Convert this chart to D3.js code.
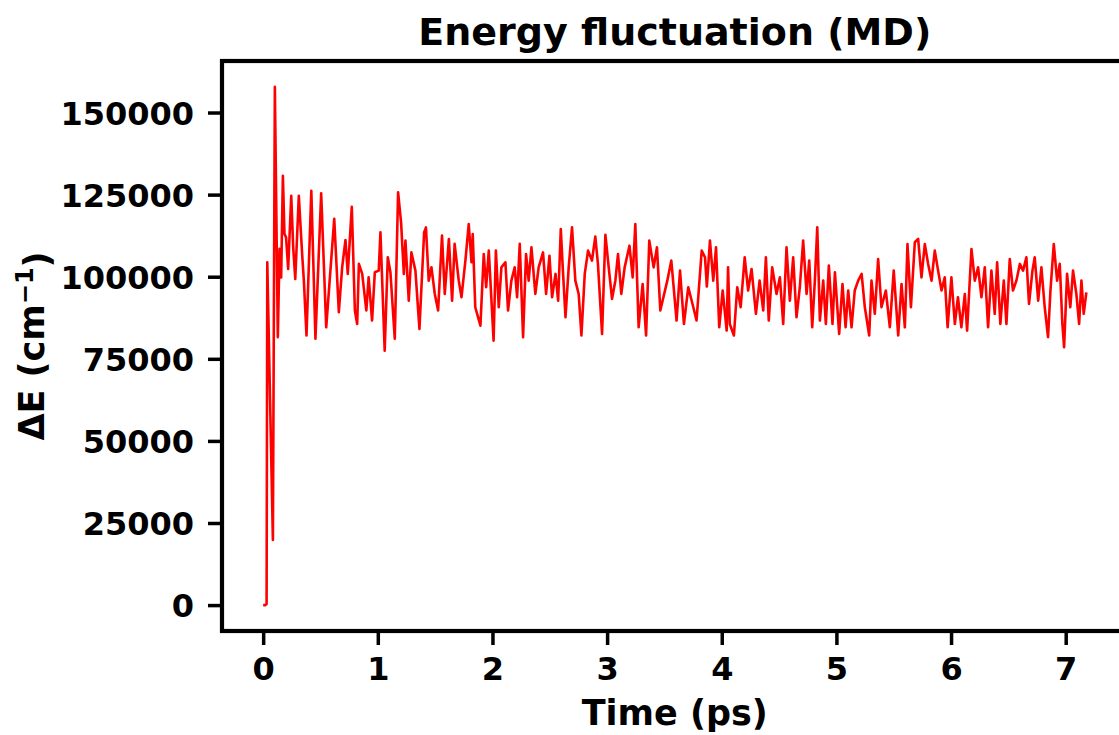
<!DOCTYPE html>
<html>
<head>
<meta charset="utf-8">
<script src="https://cdn.jsdelivr.net/npm/d3@7"></script>
<style>
  html, body { margin: 0; padding: 0; background: #fff; overflow: hidden; }
  svg { display: block; font-family: "DejaVu Sans", sans-serif; font-weight: bold; }
</style>
</head>
<body>
<svg id="chart" width="1119" height="735"></svg>
<script>
// ---- data ----
const timePs = [
  0.000, 0.010, 0.020, 0.030, 0.036, 0.085, 0.102, 0.128, 0.143, 0.157,
  0.172, 0.186, 0.200, 0.218, 0.245, 0.262, 0.280, 0.311, 0.340, 0.355,
  0.378, 0.420, 0.456, 0.506, 0.550, 0.578, 0.620, 0.660, 0.689, 0.718,
  0.738, 0.773, 0.800, 0.820, 0.835, 0.864, 0.900, 0.920, 0.950, 0.974,
  1.008, 1.023, 1.060, 1.087, 1.110, 1.148, 1.177, 1.203, 1.227, 1.241,
  1.270, 1.293, 1.328, 1.363, 1.404, 1.420, 1.444, 1.468, 1.497, 1.526,
  1.560, 1.584, 1.620, 1.648, 1.670, 1.706, 1.730, 1.764, 1.793, 1.817,
  1.828, 1.850, 1.895, 1.924, 1.945, 1.968, 2.010, 2.030, 2.055, 2.078,
  2.113, 2.136, 2.165, 2.194, 2.215, 2.238, 2.267, 2.293, 2.316, 2.340,
  2.374, 2.403, 2.441, 2.468, 2.497, 2.520, 2.550, 2.573, 2.596, 2.613,
  2.637, 2.665, 2.694, 2.723, 2.752, 2.776, 2.805, 2.834, 2.868, 2.897,
  2.920, 2.956, 2.985, 3.014, 3.043, 3.072, 3.095, 3.124, 3.153, 3.195,
  3.223, 3.246, 3.275, 3.310, 3.340, 3.368, 3.406, 3.435, 3.464, 3.525,
  3.560, 3.606, 3.636, 3.670, 3.708, 3.752, 3.780, 3.825, 3.854, 3.870,
  3.897, 3.926, 3.950, 3.978, 4.008, 4.043, 4.055, 4.070, 4.106, 4.135,
  4.165, 4.200, 4.230, 4.260, 4.298, 4.330, 4.362, 4.385, 4.410, 4.440,
  4.478, 4.507, 4.536, 4.565, 4.594, 4.623, 4.652, 4.681, 4.710, 4.740,
  4.763, 4.789, 4.812, 4.833, 4.856, 4.885, 4.908, 4.934, 4.966, 4.987,
  5.024, 5.053, 5.080, 5.103, 5.132, 5.160, 5.190, 5.220, 5.248, 5.286,
  5.306, 5.335, 5.364, 5.393, 5.431, 5.466, 5.500, 5.539, 5.568, 5.597,
  5.620, 5.650, 5.684, 5.713, 5.742, 5.771, 5.800, 5.830, 5.858, 5.887,
  5.917, 5.945, 5.970, 6.003, 6.033, 6.060, 6.090, 6.120, 6.140, 6.178,
  6.207, 6.236, 6.265, 6.294, 6.323, 6.352, 6.381, 6.402, 6.430, 6.460,
  6.483, 6.512, 6.540, 6.570, 6.600, 6.628, 6.657, 6.680, 6.710, 6.730,
  6.760, 6.788, 6.817, 6.846, 6.867, 6.896, 6.925, 6.948, 6.971, 6.986,
  7.012, 7.040, 7.064, 7.093, 7.117, 7.137, 7.157, 7.180
];
const deltaE = [
  0, 0, 0, 300, 104400, 19800, 157800, 81600, 108500, 99800,
  130750, 113000, 112000, 102350, 124650, 108950, 99300, 124650, 106900, 98800,
  82100, 126200, 81100, 125400, 84600, 97800, 117600, 89200, 102850, 111200,
  100850, 121300, 89700, 85600, 103900, 100850, 89700, 99800, 86650, 101350,
  101850, 113500, 77500, 105900, 101350, 81100, 125700, 116550, 100850, 111000,
  92700, 107400, 101850, 84100, 113500, 115000, 98800, 102850, 94750, 89700,
  112500, 94750, 111500, 92700, 110000, 98800, 93750, 104900, 116050, 104400,
  113000, 90700, 85100, 106900, 96800, 107950, 80550, 107950, 90700, 102850,
  104400, 89700, 98800, 102850, 93750, 110000, 81600, 106900, 98800, 108950,
  94750, 102850, 107400, 94750, 106400, 93750, 100850, 92700, 114500, 102850,
  87650, 102850, 115050, 98800, 94750, 82100, 100850, 107950, 104900, 112200,
  103900, 82600, 112800, 102850, 93250, 98800, 106900, 94750, 102850, 109450,
  99800, 116050, 84600, 97800, 82100, 111000, 102850, 108950, 89700, 98800,
  104900, 86650, 101850, 85600, 96800, 90700, 86650, 107950, 105900, 97000,
  111000, 98800, 108950, 84600, 95800, 83600, 102850, 85600, 82100, 96800,
  90700, 105900, 95800, 102350, 88700, 98800, 89700, 105900, 86650, 102850,
  94750, 99800, 85600, 108950, 92700, 105900, 87650, 96800, 111000, 94750,
  104900, 84600, 98800, 115050, 86650, 98800, 85600, 103400, 85600, 101350,
  82600, 97800, 84600, 95800, 84600, 95800, 98800, 100850, 90700, 82100,
  98800, 88700, 105400, 90700, 95800, 84600, 101850, 82100, 97800, 84600,
  109950, 90700, 110500, 111500, 99800, 109950, 103900, 98800, 107950, 101850,
  95800, 99800, 84600, 99800, 85600, 93750, 84600, 94750, 83600, 108450,
  98800, 102850, 93750, 102850, 84600, 101850, 88700, 104400, 85600, 98800,
  85600, 105400, 95800, 98800, 103900, 101850, 105900, 91700, 101850, 105900,
  92700, 102850, 90700, 81600, 95800, 109950, 98800, 103900, 85600, 78550,
  100850, 90700, 101850, 94750, 85600, 98800, 88700, 95250
];
const xTickValues = [0, 1, 2, 3, 4, 5, 6, 7];
const yTickValues = [0, 25000, 50000, 75000, 100000, 125000, 150000];
const titleText = "Energy fluctuation (MD)";
const xLabelText = "Time (ps)";

(function () {
  // ---- layout ----
  const svg = d3.select("#chart");
  const pl = 222, pr = 1127.5, pt = 61, pb = 631;

  const xMin = d3.min(timePs), xMax = d3.max(timePs);
  const xPad = (xMax - xMin) * 0.05;
  const yMin = d3.min(deltaE), yMax = d3.max(deltaE);
  const yPad = (yMax - yMin) * 0.05;

  const x = d3.scaleLinear().domain([xMin - xPad, xMax + xPad]).range([pl, pr]);
  const y = d3.scaleLinear().domain([yMin - yPad, yMax + yPad]).range([pb, pt]);

  const points = timePs.map((t, i) => [t, deltaE[i]]);

  // line
  svg.append("path")
    .datum(points)
    .attr("fill", "none")
    .attr("stroke", "#ff0000")
    .attr("stroke-width", 2.6)
    .attr("stroke-linejoin", "round")
    .attr("d", d3.line().x(d => x(d[0])).y(d => y(d[1])));

  // axes
  const xAxis = d3.axisBottom(x).tickValues(xTickValues).tickFormat(d3.format("d"))
    .tickSize(14).tickPadding(12);
  const yAxis = d3.axisLeft(y).tickValues(yTickValues).tickFormat(d3.format("d"))
    .tickSize(14).tickPadding(14);

  const gx = svg.append("g").attr("transform", `translate(0,${pb})`).call(xAxis);
  const gy = svg.append("g").attr("transform", `translate(${pl},0)`).call(yAxis);
  [gx, gy].forEach(g => {
    g.select(".domain").remove();
    g.selectAll(".tick line").attr("stroke", "#000").attr("stroke-width", 3.5);
    g.selectAll(".tick text")
      .attr("fill", "#000")
      .style("font-family", "'DejaVu Sans', sans-serif")
      .style("font-weight", "bold")
      .style("font-size", "32px");
  });
  gx.selectAll(".tick text").attr("dy", "0.71em");
  gy.selectAll(".tick text").attr("dy", "0.36em");

  // spines (frame)
  svg.append("rect")
    .attr("x", pl).attr("y", pt)
    .attr("width", pr - pl).attr("height", pb - pt)
    .attr("fill", "none").attr("stroke", "#000").attr("stroke-width", 4.2);

  // title
  svg.append("text")
    .attr("x", (pl + pr) / 2).attr("y", 45)
    .attr("text-anchor", "middle")
    .style("font-size", "38px")
    .text(titleText);

  // x label
  svg.append("text")
    .attr("x", (pl + pr) / 2).attr("y", 725)
    .attr("text-anchor", "middle")
    .style("font-size", "35px")
    .text(xLabelText);

  // y label
  const yl = svg.append("text")
    .attr("transform", `translate(44,${(pt + pb) / 2}) rotate(-90)`)
    .attr("text-anchor", "middle")
    .style("font-size", "35px");
  yl.append("tspan").text("ΔE (cm");
  yl.append("tspan").attr("dy", "-0.45em").style("font-size", "24px").text("−1");
  yl.append("tspan").attr("dy", "0.45em").text(")");
})();
</script>
</body>
</html>
